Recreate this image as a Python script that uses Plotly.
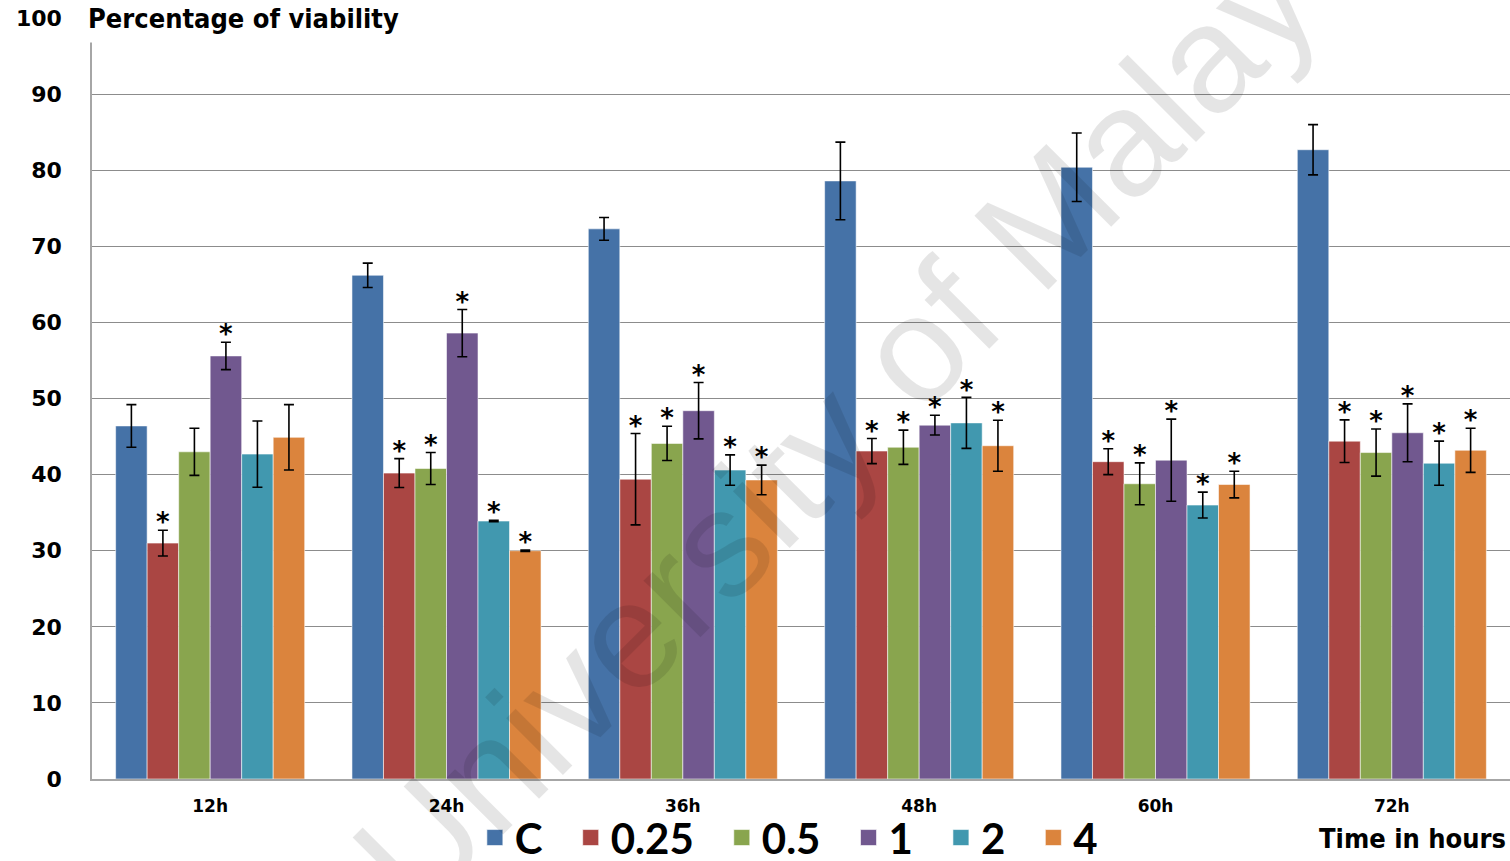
import plotly.graph_objects as go

# Time points on the x axis
categories = ["12h", "24h", "36h", "48h", "60h", "72h"]

# Concentration groups (legend entries)
series_names = ["C", "0.25", "0.5", "1", "2", "4"]

# Mean viability (%) per group and time point
viab_c = [46.4, 66.2, 72.3, 78.6, 80.4, 82.7]
viab_025 = [31.0, 40.2, 39.4, 43.1, 41.7, 44.4]
viab_05 = [43.0, 40.8, 44.1, 43.6, 38.8, 42.9]
viab_1 = [55.6, 58.6, 48.4, 46.5, 41.9, 45.5]
viab_2 = [42.7, 33.9, 40.6, 46.8, 36.0, 41.5]
viab_4 = [44.9, 30.0, 39.3, 43.8, 38.7, 43.2]

# Standard deviations
err_c = [2.8, 1.6, 1.5, 5.1, 4.5, 3.3]
err_025 = [1.7, 1.9, 6.0, 1.65, 1.7, 2.8]
err_05 = [3.1, 2.1, 2.25, 2.25, 2.75, 3.1]
err_1 = [1.8, 3.1, 3.7, 1.3, 5.4, 3.8]
err_2 = [4.35, 0.1, 2.0, 3.35, 1.7, 2.9]
err_4 = [4.3, 0.1, 1.95, 3.35, 1.75, 2.9]

# Significance vs control (1 = marked with an asterisk)
sig_c = [0, 0, 0, 0, 0, 0]
sig_025 = [1, 1, 1, 1, 1, 1]
sig_05 = [0, 1, 1, 1, 1, 1]
sig_1 = [1, 1, 1, 1, 1, 1]
sig_2 = [0, 1, 1, 1, 1, 1]
sig_4 = [0, 1, 1, 1, 1, 1]

values = [viab_c, viab_025, viab_05, viab_1, viab_2, viab_4]
errors = [err_c, err_025, err_05, err_1, err_2, err_4]
sigs = [sig_c, sig_025, sig_05, sig_1, sig_2, sig_4]
colors = ["#4572A7", "#AA4643", "#89A54E", "#71588F", "#4198AF", "#DB843D"]

# small lift so the asterisk sits just above the error-bar cap
STAR_LIFT = 0.7
# spacing after each legend label
LEGEND_PAD = "\u00a0\u00a0\u200a"

fig = go.Figure()

for name, vals, errs, col in zip(series_names, values, errors, colors):
    fig.add_trace(go.Bar(
        x=categories, y=vals, name=name, offsetgroup=name, showlegend=False,
        marker=dict(color=col, line=dict(color="rgba(255,255,255,0.55)", width=1)),
        error_y=dict(type="data", array=errs, visible=True,
                     color="#000000", thickness=1.6, width=5),
    ))

# Asterisks above the error bars of significant groups
for name, vals, errs, flags in zip(series_names, values, errors, sigs):
    ys = [v + e + STAR_LIFT if f else None for v, e, f in zip(vals, errs, flags)]
    fig.add_trace(go.Scatter(
        x=categories, y=ys, mode="text", text=["*"] * len(categories),
        textposition="middle center", offsetgroup=name, showlegend=False,
        textfont=dict(family="DejaVu Sans", size=26, color="#000000", weight="bold"),
        hoverinfo="skip",
    ))

# Legend entries with square swatches
for name, col in zip(series_names, colors):
    fig.add_trace(go.Scatter(
        x=[None], y=[None], mode="markers", name=name + LEGEND_PAD,
        marker=dict(symbol="square", size=24, color=col,
                    line=dict(color="rgba(255,255,255,0.6)", width=1)),
    ))

fig.update_layout(
    width=1510, height=861,
    margin=dict(l=92, r=0, t=18, b=82, autoexpand=False),
    paper_bgcolor="white", plot_bgcolor="white",
    barmode="group", bargap=0.2, bargroupgap=0,
    scattermode="group", scattergap=0.2,
    showlegend=True,
    legend=dict(orientation="h", x=0.27, xanchor="left",
                yref="container", y=0.027, yanchor="middle",
                font=dict(family="Lato", size=42, color="#000000", weight="bold"),
                itemwidth=30, tracegroupgap=0, bgcolor="rgba(0,0,0,0)"),
    xaxis=dict(
        showgrid=False, showline=True, linecolor="#a6a6a6", linewidth=2,
        ticks="", ticklabelstandoff=11,
        tickfont=dict(family="DejaVu Sans", size=17, color="#000000", weight="bold"),
    ),
    yaxis=dict(
        range=[0, 100.01], dtick=10, showgrid=True, gridcolor="#8c8c8c", gridwidth=1,
        showline=True, linecolor="#a6a6a6", linewidth=1.5, zeroline=False,
        ticks="", ticklabelstandoff=24,
        tickfont=dict(family="DejaVu Sans", size=22, color="#000000", weight="bold"),
    ),
    annotations=[
        dict(text="Percentage of viability", xref="paper", yref="paper",
             x=0, y=1, xanchor="left", yanchor="middle", xshift=-6,
             showarrow=False, bgcolor="white", width=330, height=46, align="left",
             font=dict(family="DejaVu Sans Condensed", size=27, color="#000000", weight="bold")),
        dict(text="Time in hours", xref="paper", yref="paper",
             x=1, y=-0.055, xanchor="right", yanchor="top", xshift=-2,
             showarrow=False,
             font=dict(family="DejaVu Sans Condensed", size=27, color="#000000", weight="bold")),
        dict(text="University of Malaya", xref="paper", yref="paper",
             x=0.545, y=0.501, xanchor="center", yanchor="middle",
             showarrow=False, textangle=-45,
             font=dict(family="Liberation Sans", size=152, color="rgba(0,0,0,0.10)")),
    ],
)

fig.write_html("out.html")
